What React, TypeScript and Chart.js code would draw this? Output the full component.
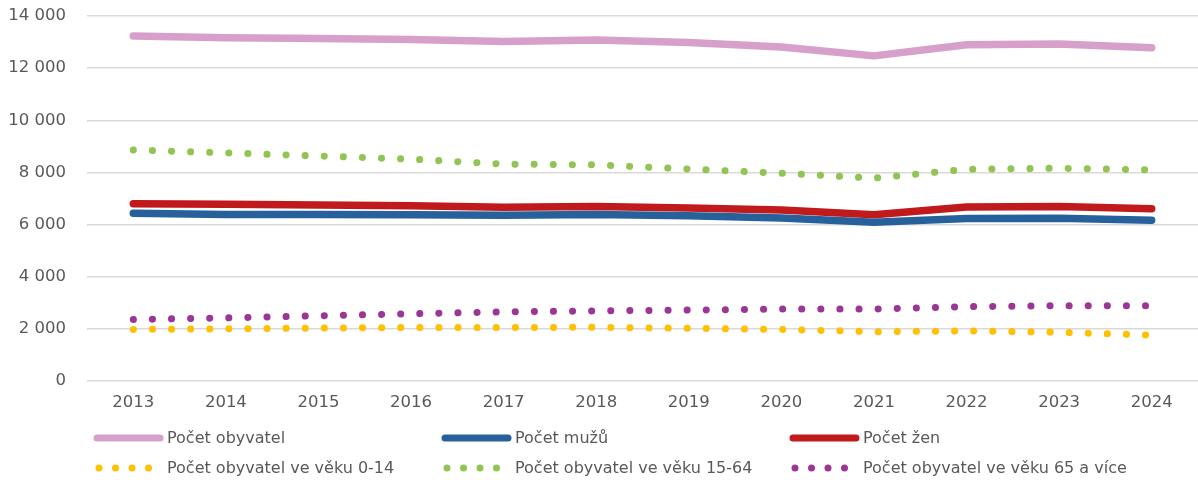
import React, { useEffect, useRef } from "react";
import { Chart, registerables } from "chart.js";

Chart.register(...registerables);

const years = ["2013", "2014", "2015", "2016", "2017", "2018", "2019", "2020", "2021", "2022", "2023", "2024"];
const total = [13230, 13170, 13140, 13100, 13020, 13080, 12980, 12810, 12470, 12900, 12930, 12780];
const men = [6430, 6390, 6390, 6380, 6360, 6390, 6340, 6250, 6090, 6230, 6240, 6170];
const women = [6800, 6780, 6750, 6720, 6660, 6690, 6640, 6560, 6380, 6670, 6690, 6610];
const age0to14 = [1980, 2000, 2030, 2050, 2050, 2060, 2020, 1980, 1890, 1920, 1870, 1760];
const age15to64 = [8860, 8750, 8630, 8510, 8320, 8290, 8130, 7970, 7780, 8120, 8160, 8100];
const age65plus = [2360, 2420, 2500, 2580, 2650, 2690, 2720, 2760, 2760, 2850, 2890, 2890];

const labels = [
  "Počet obyvatel",
  "Počet mužů",
  "Počet žen",
  "Počet obyvatel ve věku 0-14",
  "Počet obyvatel ve věku 15-64",
  "Počet obyvatel ve věku 65 a více",
];

const FONT = "'DejaVu Sans', sans-serif";
const GREY = "#595959";

const legendPlugin = {
  id: "customLegend",
  afterDraw(chart: any) {
    const ctx = chart.ctx;
    const ds = chart.data.datasets;
    ctx.save();
    ctx.font = `16px ${FONT}`;
    ctx.fillStyle = GREY;
    ctx.textBaseline = "middle";
    ds.forEach((d: any, i: number) => {
      const col = i % 3;
      const row = Math.floor(i / 3);
      const x0 = 94 + col * 348;
      const y = 438 + row * 30;
      ctx.strokeStyle = d.borderColor;
      ctx.lineCap = "round";
      if (d.dotted) {
        ctx.fillStyle = d.borderColor;
        for (let k = 0; k < 4; k++) {
          ctx.beginPath();
          ctx.arc(x0 + 5 + k * 16.5, y, 3.5, 0, Math.PI * 2);
          ctx.fill();
        }
      } else {
        ctx.lineWidth = 7;
        ctx.beginPath();
        ctx.moveTo(x0 + 3, y);
        ctx.lineTo(x0 + 66, y);
        ctx.stroke();
      }
      ctx.fillStyle = GREY;
      ctx.fillText(d.label, x0 + 73, y + 1);
    });
    ctx.restore();
  },
};

export default function App() {
  const ref = useRef<HTMLCanvasElement | null>(null);
  useEffect(() => {
    if (!ref.current) return;
    const solid = (label: string, data: number[], color: string) => ({
      label,
      data,
      borderColor: color,
      backgroundColor: color,
      borderWidth: 7.5,
      borderCapStyle: "round",
      borderJoinStyle: "round",
      pointRadius: 0,
      tension: 0,
      fill: false,
      dotted: false,
    });
    const dotted = (label: string, data: number[], color: string) => ({
      label,
      data,
      borderColor: color,
      backgroundColor: color,
      borderWidth: 7,
      borderCapStyle: "round",
      borderJoinStyle: "round",
      borderDash: [0.1, 19],
      pointRadius: 0,
      tension: 0,
      fill: false,
      dotted: true,
    });
    const chart = new Chart(ref.current, {
      type: "line",
      data: {
        labels: years,
        datasets: [
          solid(labels[0], total, "#D7A0CB"),
          solid(labels[1], men, "#26619C"),
          solid(labels[2], women, "#C01A1C"),
          dotted(labels[3], age0to14, "#FFC000"),
          dotted(labels[4], age15to64, "#92C453"),
          dotted(labels[5], age65plus, "#9C3694"),
        ] as any,
      },
      options: {
        animation: false,
        responsive: false,
        maintainAspectRatio: false,
        layout: { padding: { top: 16, left: 0, right: 0, bottom: 0 } },
        plugins: {
          legend: { display: false },
          tooltip: { enabled: false },
        },
        scales: {
          x: {
            offset: true,
            grid: { display: false, drawTicks: false },
            border: { display: false },
            ticks: {
              color: GREY,
              font: { family: FONT, size: 16.5 },
              padding: 12,
              maxRotation: 0,
            },
            afterFit(scale: any) {
              scale.height = 99;
            },
          },
          y: {
            min: 0,
            max: 14000,
            grid: { color: "#D9D9D9", lineWidth: 1.5, drawTicks: false },
            border: { display: false },
            ticks: {
              stepSize: 2000,
              color: GREY,
              font: { family: FONT, size: 16.5 },
              padding: 21,
              callback: (v: any) => {
                const n = Number(v);
                return n >= 1000
                  ? `${Math.floor(n / 1000)} ${String(n % 1000).padStart(3, "0")}`
                  : String(n);
              },
            },
            afterFit(scale: any) {
              scale.width = 87;
              scale.paddingTop = 0;
              scale.paddingBottom = 0;
            },
          },
        },
      } as any,
      plugins: [legendPlugin],
    });
    return () => chart.destroy();
  }, []);
  return (
    <div style={{ position: "fixed", left: 0, top: 0, width: 1198, height: 480, background: "#fff" }}>
      <canvas ref={ref} width={1198} height={480} style={{ display: "block" }} />
    </div>
  );
}
